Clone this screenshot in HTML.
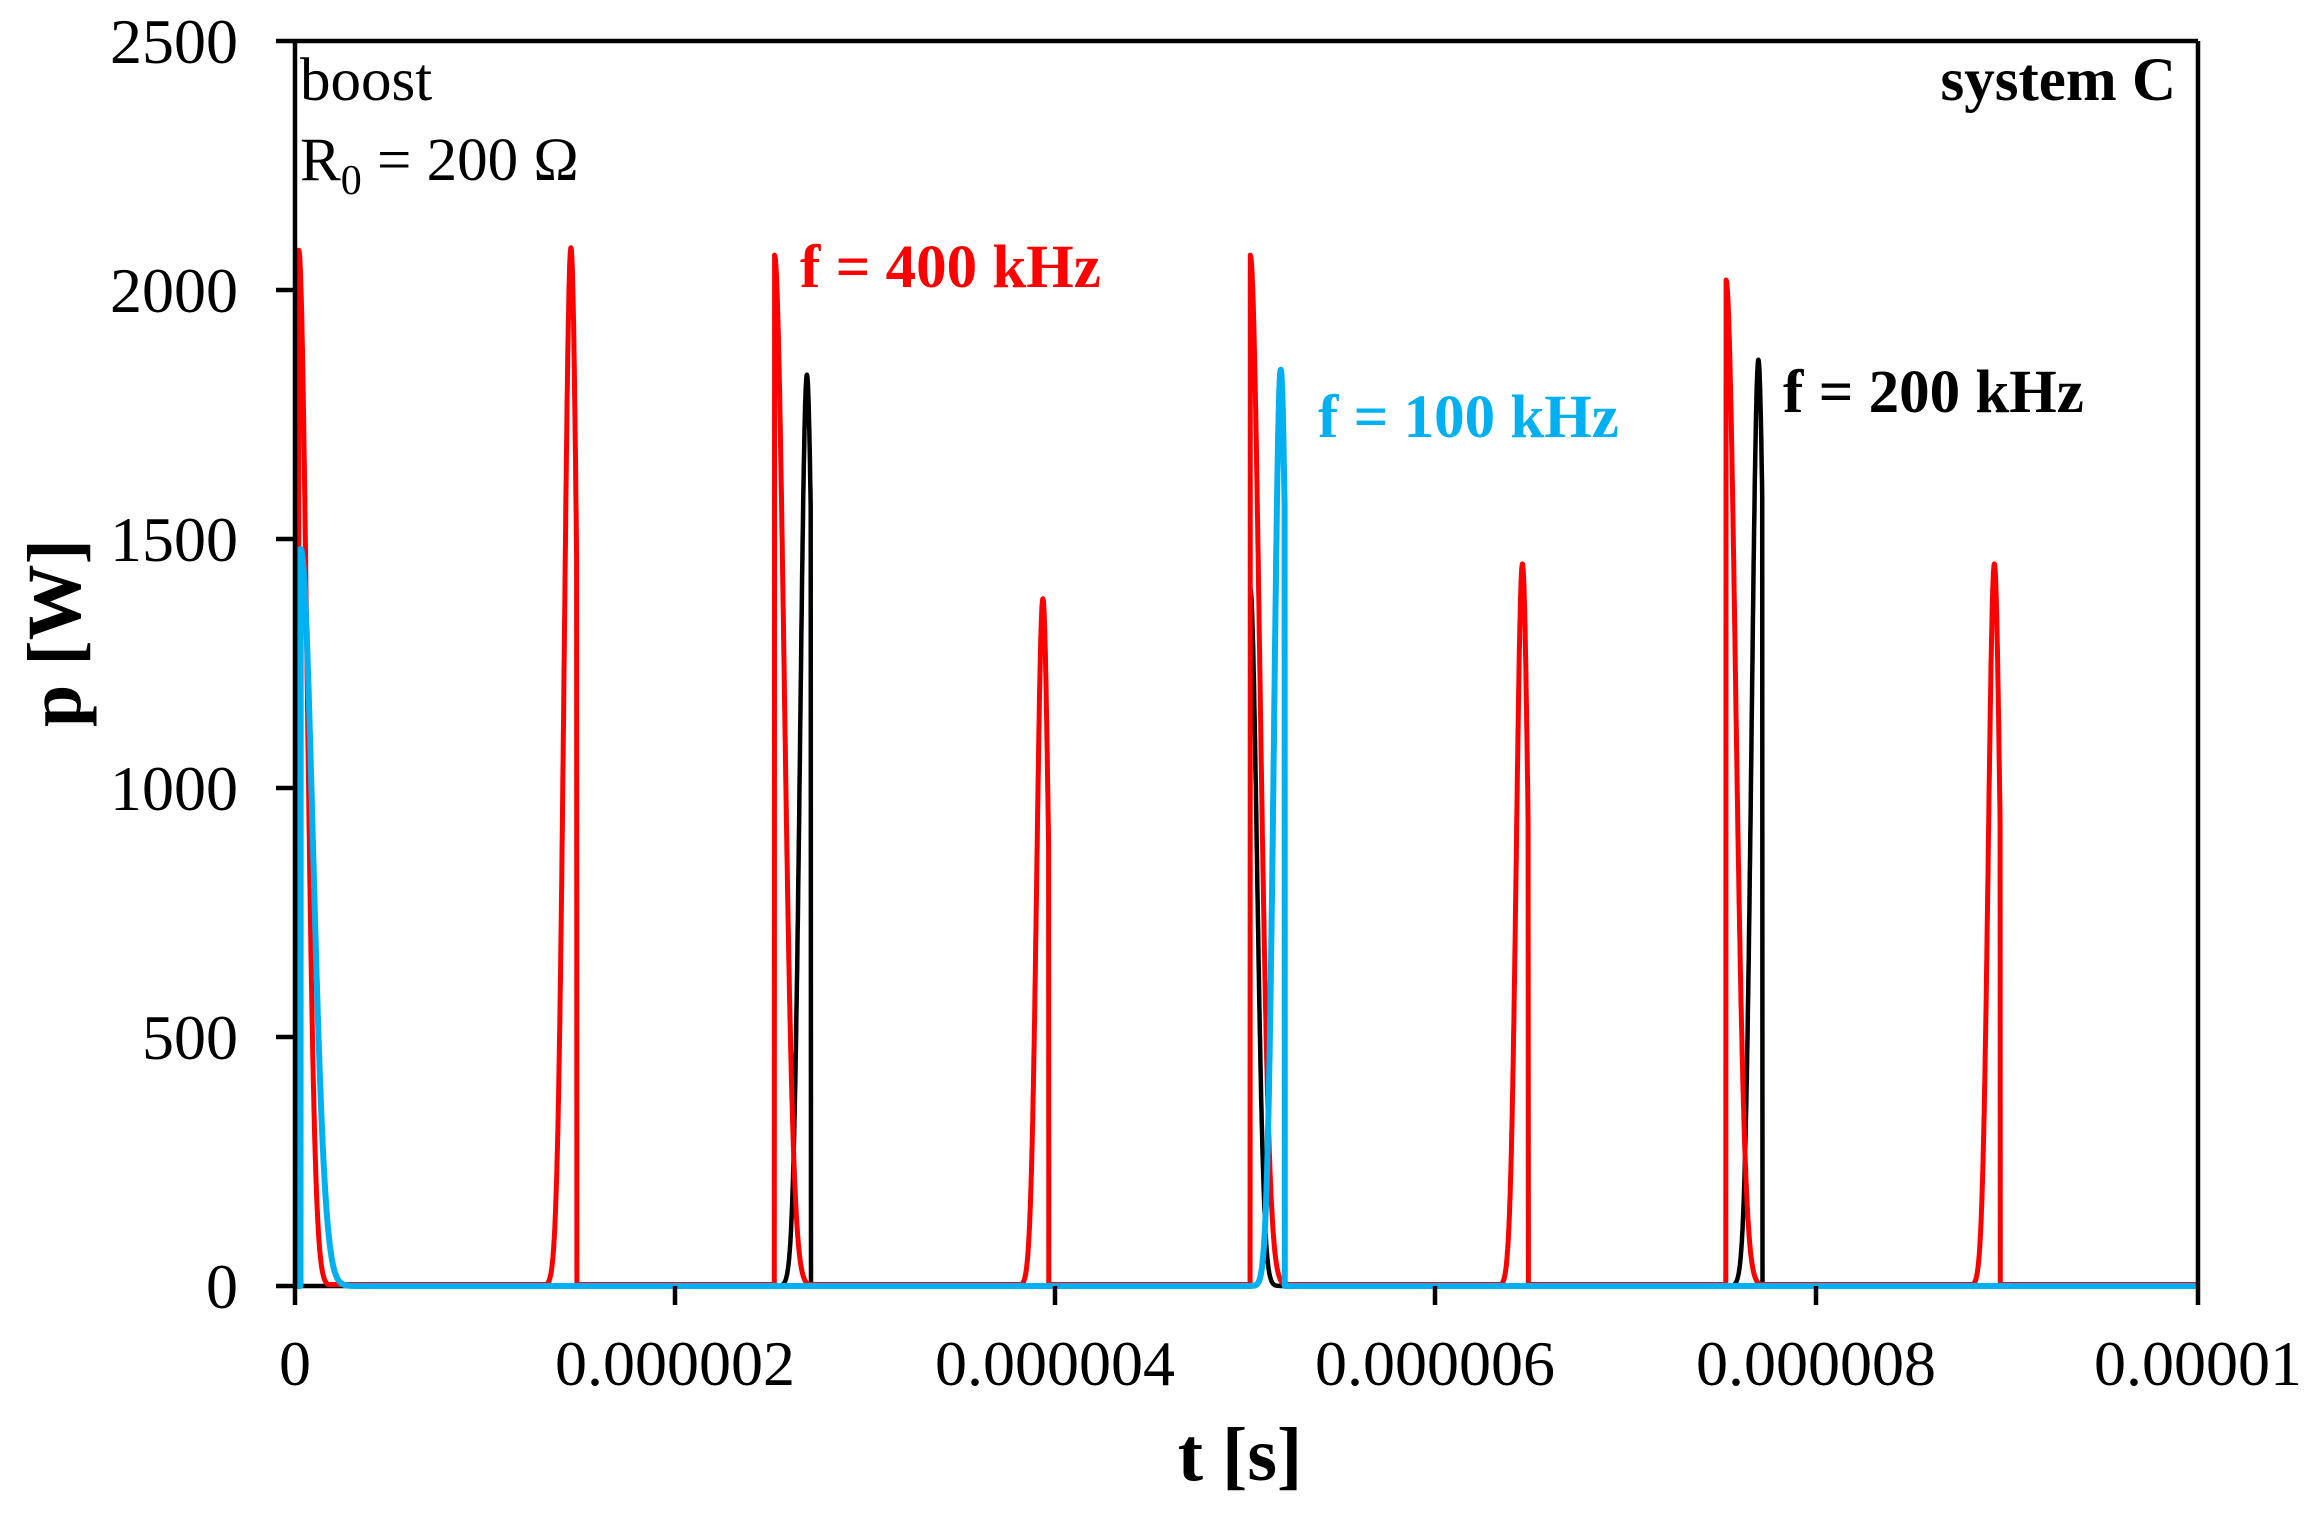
<!DOCTYPE html>
<html><head><meta charset="utf-8"><style>
html,body{margin:0;padding:0;background:#fff;}
svg{display:block;}
text{font-family:"Liberation Serif",serif;}
</style></head><body>
<svg id="s" width="2310" height="1513" viewBox="0 0 2310 1513" xmlns="http://www.w3.org/2000/svg">
<g id="data" fill="none" stroke-linejoin="round"></g>
<g stroke="#000" stroke-width="4.5" fill="none">
<line x1="295" y1="41" x2="2198" y2="41"/>
<line x1="295" y1="41" x2="295" y2="1286"/>
<line x1="2198" y1="41" x2="2198" y2="1305"/>
<line x1="276" y1="41" x2="295" y2="41"/>
<line x1="276" y1="290" x2="295" y2="290"/>
<line x1="276" y1="539" x2="295" y2="539"/>
<line x1="276" y1="788" x2="295" y2="788"/>
<line x1="276" y1="1037" x2="295" y2="1037"/>
<line x1="276" y1="1286" x2="295" y2="1286"/>
<line x1="295" y1="1286" x2="295" y2="1305"/>
<line x1="675" y1="1286" x2="675" y2="1305"/>
<line x1="1055" y1="1286" x2="1055" y2="1305"/>
<line x1="1435" y1="1286" x2="1435" y2="1305"/>
<line x1="1816" y1="1286" x2="1816" y2="1305"/>
</g>
<g font-size="64" text-anchor="end">
<text x="238" y="63">2500</text>
<text x="238" y="312">2000</text>
<text x="238" y="561">1500</text>
<text x="238" y="810">1000</text>
<text x="238" y="1059">500</text>
<text x="238" y="1308">0</text>
</g>
<g font-size="64" text-anchor="middle">
<text x="295" y="1385">0</text>
<text x="675" y="1385">0.000002</text>
<text x="1055" y="1385">0.000004</text>
<text x="1435" y="1385">0.000006</text>
<text x="1816" y="1385">0.000008</text>
<text x="2198" y="1385">0.00001</text>
</g>
<text x="1240" y="1480" font-size="76" font-weight="bold" text-anchor="middle">t [s]</text>
<text transform="translate(80,633) rotate(-90)" font-size="76" font-weight="bold" text-anchor="middle">p [W]</text>
<text x="300" y="100" font-size="61">boost</text>
<text x="300" y="180" font-size="61">R<tspan font-size="42" dy="14">0</tspan><tspan dy="-14"> = 200 Ω</tspan></text>
<text x="2176" y="100" font-size="61" font-weight="bold" text-anchor="end">system C</text>
<text x="800" y="287" font-size="61" font-weight="bold" fill="#ff0000">f = 400 kHz</text>
<text x="1318" y="437" font-size="61" font-weight="bold" fill="#00b0f0">f = 100 kHz</text>
<text x="1783" y="412" font-size="61" font-weight="bold" fill="#000">f = 200 kHz</text>
</svg>
<script>
(function(){
var X0=295,SX=190.3,Y0=1286,SY=0.498;
function px(t){return X0+t*SX;} function py(p){return Y0-p*SY;}
function spike(t0,H,w){return function(t){if(t<t0)return 0;var d=(t-t0)/w;return H*Math.exp(-d*d);};}
function cut(tc,H,s,tcut){return function(t){if(t>tcut)return 0;var d=(t-tc)/s;return H*Math.exp(-d*d);};}
function build(fs,base){
  var d="",N=8000;
  for(var i=0;i<=N;i++){var t=i*10/N;var v=base;for(var k=0;k<fs.length;k++)v=Math.max(v,fs[k](t));
    d+=(i?"L":"M")+px(t).toFixed(1)+" "+py(v).toFixed(1);}
  return d;
}
var red=[spike(0.02,2080,0.06),cut(1.45,2085,0.05,1.48),spike(2.52,2070,0.07),cut(3.93,1380,0.045,3.96),
 spike(5.02,2070,0.07),cut(6.45,1450,0.045,6.48),spike(7.52,2020,0.07),cut(8.93,1450,0.045,8.96)];
var blk=[cut(2.69,1830,0.05,2.71),cut(7.69,1860,0.05,7.71),spike(5.02,1400,0.05)];
var cyn=[spike(0.03,1480,0.09),cut(5.18,1840,0.05,5.2)];
var g=document.getElementById("data");
function add(d,c,w){var p=document.createElementNS("http://www.w3.org/2000/svg","path");p.setAttribute("d",d);p.setAttribute("stroke",c);p.setAttribute("stroke-width",w);g.appendChild(p);}
add(build(blk,0),"#000",4.5);
add(build(red,3),"#ff0000",5);
add(build(cyn,0),"#00b0f0",6);
})();
</script>
</body></html>
